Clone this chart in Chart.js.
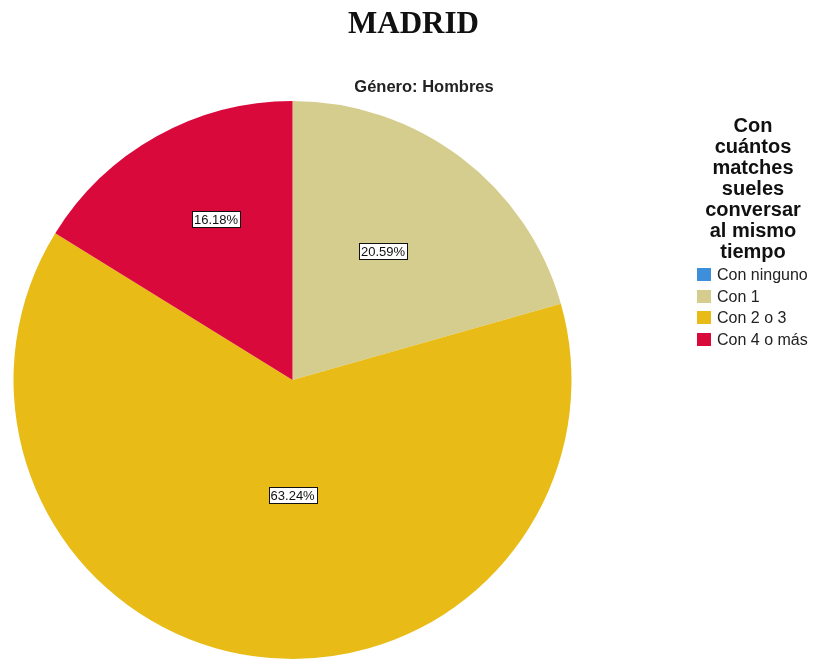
<!DOCTYPE html>
<html lang="es">
<head>
<meta charset="utf-8">
<title>MADRID</title>
<script src="https://cdn.jsdelivr.net/npm/chart.js@4/dist/chart.umd.min.js"></script>
<style>
  html, body { margin: 0; padding: 0; background: #ffffff; }
  #wrap { position: relative; width: 815px; height: 662px; overflow: hidden; }
  #pie { position: absolute; left: 0; top: 0; }
  .title {
    position: absolute; left: 0; width: 827px; top: 5px; text-align: center;
    font-family: "Liberation Serif", "Times New Roman", serif; font-weight: bold;
    font-size: 31px; color: #111;
  }
  .subtitle {
    position: absolute; left: 324px; width: 200px; top: 77px; text-align: center;
    font-family: "Liberation Sans", Arial, sans-serif; font-weight: bold;
    font-size: 16.5px; color: #222;
  }
  .legend { position: absolute; left: 683px; top: 115px; width: 140px; }
  .legend h2 {
    margin: 0; text-align: center; font-family: "Liberation Sans", Arial, sans-serif;
    font-weight: bold; font-size: 20px; line-height: 21px; color: #111;
  }
  .legend ul { list-style: none; margin: 2px 0 0 0; padding: 0; }
  .legend li {
    position: relative; height: 21.7px; line-height: 21.7px; padding-left: 34px;
    font-family: "Liberation Sans", Arial, sans-serif; font-size: 16px; color: #222;
    white-space: nowrap;
  }
  .legend li span {
    position: absolute; left: 14px; top: 4px; width: 14px; height: 13px;
  }
</style>
</head>
<body>
<div id="wrap">
  <canvas id="pie" width="815" height="662"></canvas>
  <div class="title">MADRID</div>
  <div class="subtitle">Género: Hombres</div>
  <div class="legend">
    <h2 id="legendTitle"></h2>
    <ul id="legendItems"></ul>
  </div>
</div>
<script>
// Answer categories and their shares (%) among men
const categories = ['Con ninguno', 'Con 1', 'Con 2 o 3', 'Con 4 o más'];
const percentages = [0, 20.59, 63.24, 16.18];
const sliceColors = ['#3d8fdc', '#d5cd8e', '#e8bb16', '#d90a3b'];
const legendTitleLines = ['Con', 'cuántos', 'matches', 'sueles', 'conversar', 'al mismo', 'tiempo'];

// Legend built from the same arrays
document.getElementById('legendTitle').innerHTML = legendTitleLines.join('<br>');
const ul = document.getElementById('legendItems');
categories.forEach((c, i) => {
  const li = document.createElement('li');
  const sw = document.createElement('span');
  sw.style.background = sliceColors[i];
  li.appendChild(sw);
  li.appendChild(document.createTextNode(c));
  ul.appendChild(li);
});

// Boxed percentage labels drawn inside each slice
const boxedLabels = {
  id: 'boxedLabels',
  afterDatasetsDraw(chart, args, opts) {
    const ctx = chart.ctx;
    const meta = chart.getDatasetMeta(0);
    ctx.save();
    ctx.font = '13px "Liberation Sans", Arial, sans-serif';
    ctx.textAlign = 'center';
    ctx.textBaseline = 'middle';
    meta.data.forEach((arc, i) => {
      const v = chart.data.datasets[0].data[i];
      if (!v) return;
      const p = arc.getProps(['x', 'y', 'startAngle', 'endAngle', 'outerRadius'], true);
      const mid = (p.startAngle + p.endAngle) / 2 + (opts.angleShift[i] || 0) * Math.PI / 180;
      const d = p.outerRadius * (opts.radial[i] || 0.6);
      const x = p.x + Math.cos(mid) * d;
      const y = p.y + Math.sin(mid) * d;
      const txt = v.toFixed(2) + '%';
      const w = Math.round(ctx.measureText(txt).width + 4);
      const h = 16;
      const bx = Math.round(x - w / 2) + 0.5, by = Math.round(y - h / 2) + 0.5;
      ctx.fillStyle = '#ffffff';
      ctx.fillRect(bx, by, w, h);
      ctx.strokeStyle = '#111111';
      ctx.lineWidth = 1;
      ctx.strokeRect(bx, by, w, h);
      ctx.fillStyle = '#111111';
      ctx.fillText(txt, x, y + 1);
    });
    ctx.restore();
  }
};

new Chart(document.getElementById('pie'), {
  type: 'pie',
  data: {
    labels: categories,
    datasets: [{
      data: percentages,
      backgroundColor: sliceColors,
      borderWidth: 0
    }]
  },
  options: {
    responsive: false,
    animation: false,
    layout: { padding: { top: 101, left: 13, right: 243, bottom: 3 } },
    plugins: {
      legend: { display: false },
      tooltip: { enabled: false },
      boxedLabels: {
        radial: [0, 0.565, 0.412, 0.638],
        angleShift: [0, -2, -8, 3.7]
      }
    }
  },
  plugins: [boxedLabels]
});
</script>
</body>
</html>
